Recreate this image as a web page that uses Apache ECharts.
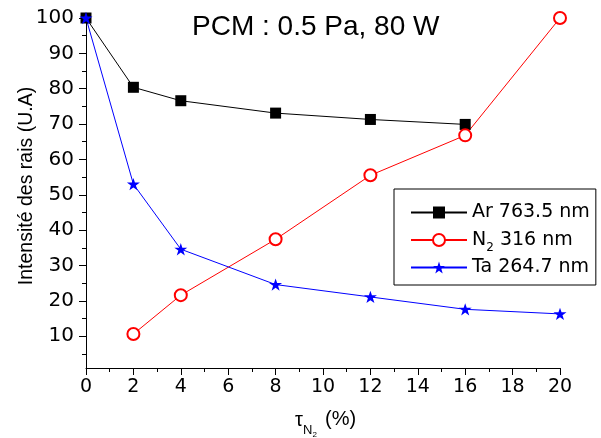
<!DOCTYPE html>
<html>
<head>
<meta charset="utf-8">
<script src="https://cdn.jsdelivr.net/npm/echarts@6/dist/echarts.min.js"></script>
<style>html,body{margin:0;padding:0;background:#fff;}#c{width:601px;height:438px;}</style>
</head>
<body>
<div id="c"></div>
<script>
var xValues = [0, 2, 4, 8, 12, 16, 20];
var arValues = [100, 80.4, 76.6, 73.1, 71.3, 69.9, null];
var n2Values = [null, 10.6, 21.6, 37.4, 55.5, 66.8, 100];
var taValues = [100, 53, 34.6, 24.6, 21.1, 17.6, 16.3];
var yTickLabels = [10, 20, 30, 40, 50, 60, 70, 80, 90, 100];
var yMinorTicks = [5, 15, 25, 35, 45, 55, 65, 75, 85, 95];
var titleText = 'PCM : 0.5 Pa, 80 W';
var yAxisTitle = 'Intensité des rais (U.A)';

function pairs(vals) {
  var out = [];
  for (var i = 0; i < xValues.length; i++) if (vals[i] !== null) out.push([xValues[i], vals[i]]);
  return out;
}
var starPath = 'path://M50,0 L61.8,35.4 L100,35.4 L69.1,57.3 L80.9,95.1 L50,72.4 L19.1,95.1 L30.9,57.3 L0,35.4 L38.2,35.4 Z';
var tickFont = 'DejaVu Sans';

var chart = echarts.init(document.getElementById('c'), null, {renderer: 'canvas'});
chart.setOption({
  animation: false,
  backgroundColor: '#fff',
  grid: {left: 86, right: 41, top: 18, bottom: 70, containLabel: false},
  xAxis: {
    type: 'value', min: 0, max: 20, interval: 2,
    axisLine: {lineStyle: {color: '#000', width: 1}},
    axisTick: {show: true, length: 7, lineStyle: {color: '#000'}},
    minorTick: {show: true, splitNumber: 2, length: 4, lineStyle: {color: '#000'}},
    splitLine: {show: false},
    axisLabel: {color: '#000', fontFamily: tickFont, fontSize: 19, margin: 10}
  },
  yAxis: [{
    type: 'value', min: 1, max: 100, position: 'left',
    axisLine: {show: true, lineStyle: {color: '#000', width: 1}},
    axisTick: {show: true, length: 7, lineStyle: {color: '#000'}, customValues: yTickLabels},
    splitLine: {show: false},
    axisLabel: {color: '#000', fontFamily: tickFont, fontSize: 20, margin: 12, customValues: yTickLabels}
  }, {
    type: 'value', min: 1, max: 100, position: 'left',
    axisLine: {show: false},
    axisTick: {show: true, length: 4, lineStyle: {color: '#000'}, customValues: yMinorTicks},
    splitLine: {show: false},
    axisLabel: {show: false}
  }],
  legend: {
    orient: 'vertical', left: 394, top: 189,
    padding: [14, 6, 8, 16],
    itemGap: 4.5, itemWidth: 56, itemHeight: 15,
    backgroundColor: '#fff', borderColor: '#000', borderWidth: 1,
    data: ['Ar 763.5 nm', 'N2 316 nm', 'Ta 264.7 nm'],
    formatter: function (name) {
      if (name === 'N2 316 nm') return '{a|N}{s|2}{a| 316 nm}';
      return '{a|' + name + '}';
    },
    textStyle: {
      color: '#000',
      rich: {
        a: {fontFamily: tickFont, fontSize: 19, lineHeight: 27, color: '#000'},
        s: {fontFamily: tickFont, fontSize: 12, lineHeight: 12, padding: [15, 0, 0, 0], color: '#000'}
      }
    }
  },
  graphic: [
    {type: 'text', left: 192, top: 13, style: {text: titleText, fontFamily: 'Liberation Sans', fontSize: 28, fill: '#000'}},
    {type: 'text', x: 27, y: 186, rotation: Math.PI / 2, style: {text: yAxisTitle, fontFamily: 'Liberation Sans', fontSize: 19.5, fill: '#000', align: 'center', verticalAlign: 'middle'}},
    {type: 'text', x: 295, y: 420, style: {text: 'τ', fontFamily: 'Liberation Sans', fontSize: 20, fill: '#000', align: 'left', verticalAlign: 'middle'}},
    {type: 'text', x: 303, y: 430.5, style: {text: 'N', fontFamily: 'Liberation Sans', fontSize: 13, fill: '#000', align: 'left', verticalAlign: 'middle'}},
    {type: 'text', x: 312.5, y: 435, style: {text: '2', fontFamily: 'Liberation Sans', fontSize: 8, fill: '#000', align: 'left', verticalAlign: 'middle'}},
    {type: 'text', x: 325, y: 419, style: {text: '(%)', fontFamily: 'Liberation Sans', fontSize: 20, fill: '#000', align: 'left', verticalAlign: 'middle'}}
  ],
  series: [
    {name: 'Ar 763.5 nm', type: 'line', data: pairs(arValues), symbol: 'rect', symbolSize: 11,
     itemStyle: {color: '#000'}, lineStyle: {color: '#000', width: 1}},
    {name: 'N2 316 nm', type: 'line', data: pairs(n2Values), symbol: 'emptyCircle', symbolSize: 12,
     itemStyle: {color: '#ff0000', borderWidth: 1}, lineStyle: {color: '#ff0000', width: 1}},
    {name: 'Ta 264.7 nm', type: 'line', data: pairs(taValues), symbol: starPath, symbolSize: 13, symbolKeepAspect: true,
     itemStyle: {color: '#0000ff'}, lineStyle: {color: '#0000ff', width: 1}}
  ]
});
</script>
</body>
</html>
